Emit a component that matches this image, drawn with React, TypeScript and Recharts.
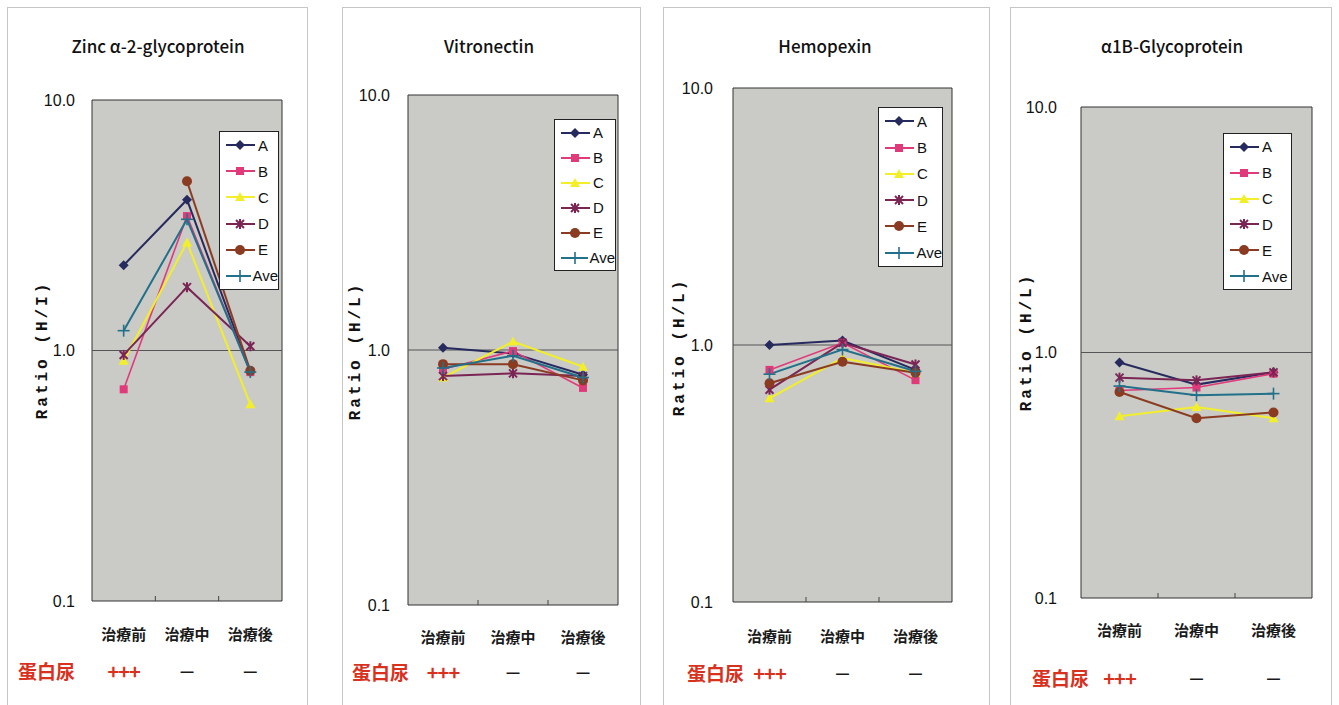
import React from 'react';
import { LineChart, Line, XAxis, YAxis, ReferenceArea, ReferenceLine, Legend } from 'recharts';

// ---------- data ----------
const categories = ['治療前', '治療中', '治療後'];
const proteinuria = ['+++', '—', '—'];
const proteinuriaLabel = '蛋白尿';
const yTicks = [0.1, 1, 10];

// Zinc α-2-glycoprotein
const zincA = [2.19, 4.0, 0.82];
const zincB = [0.7, 3.44, 0.82];
const zincC = [0.91, 2.7, 0.61];
const zincD = [0.96, 1.79, 1.04];
const zincE = [null, 4.74, 0.83];
const zincAve = [1.2, 3.34, 0.82];

// Vitronectin
const vitA = [1.02, 0.97, 0.8];
const vitB = [0.84, 0.99, 0.71];
const vitC = [0.78, 1.08, 0.86];
const vitD = [0.79, 0.81, 0.79];
const vitE = [0.88, 0.88, 0.76];
const vitAve = [0.85, 0.95, 0.78];

// Hemopexin
const hemA = [1.0, 1.04, 0.8];
const hemB = [0.8, 1.02, 0.73];
const hemC = [0.62, 0.89, 0.78];
const hemD = [0.67, 1.02, 0.84];
const hemE = [0.71, 0.86, 0.78];
const hemAve = [0.77, 0.96, 0.79];

// α1B-Glycoprotein
const a1bA = [0.91, 0.74, 0.83];
const a1bB = [0.7, 0.72, 0.82];
const a1bC = [0.55, 0.6, 0.54];
const a1bD = [0.79, 0.77, 0.83];
const a1bE = [0.69, 0.54, 0.57];
const a1bAve = [0.73, 0.67, 0.68];

// ---------- styles ----------
const seriesStyle = [
  { key: 'A', color: '#272a5e', shape: 'diamond' },
  { key: 'B', color: '#e03a7a', shape: 'square' },
  { key: 'C', color: '#f2ef2a', shape: 'triangle' },
  { key: 'D', color: '#7b2555', shape: 'star' },
  { key: 'E', color: '#8a3b22', shape: 'circle' },
  { key: 'Ave', color: '#22708a', shape: 'plus' },
];

const RED = '#d8321e';
const PLOT_BG = '#cacbc6';

const panels = [
  {
    title: 'Zinc α-2-glycoprotein', ylabel: 'Ratio (H/I)',
    values: [zincA, zincB, zincC, zincD, zincE, zincAve],
    left: 7, right: 308, plotL: 92, plotR: 282, plotT: 100, plotB: 601,
    titleX: 158, ylabelX: 43, ylabelY: 350,
    legend: { x: 219, y: 131, w: 60, h: 159 },
    catOff: 32, protOff: 69, protLabelX: 18, tickGap: 17,
  },
  {
    title: 'Vitronectin', ylabel: 'Ratio (H/L)',
    values: [vitA, vitB, vitC, vitD, vitE, vitAve],
    left: 342, right: 641, plotL: 408, plotR: 618, plotT: 95, plotB: 605,
    titleX: 489, ylabelX: 356, ylabelY: 351,
    legend: { x: 554, y: 119, w: 62, h: 152 },
    catOff: 31, protOff: 66, protLabelX: 352, tickGap: 18,
  },
  {
    title: 'Hemopexin', ylabel: 'Ratio (H/L)',
    values: [hemA, hemB, hemC, hemD, hemE, hemAve],
    left: 663, right: 990, plotL: 733, plotR: 952, plotT: 88, plotB: 602,
    titleX: 825, ylabelX: 680, ylabelY: 347,
    legend: { x: 878, y: 107, w: 65, h: 160 },
    catOff: 33, protOff: 70, protLabelX: 687, tickGap: 20,
  },
  {
    title: 'α1B-Glycoprotein', ylabel: 'Ratio (H/L)',
    values: [a1bA, a1bB, a1bC, a1bD, a1bE, a1bAve],
    left: 1010, right: 1332, plotL: 1081, plotR: 1312, plotT: 107, plotB: 598,
    titleX: 1172, ylabelX: 1027, ylabelY: 342,
    legend: { x: 1223, y: 133, w: 69, h: 157 },
    catOff: 31, protOff: 79, protLabelX: 1032, tickGap: 24,
  },
];

function Marker({ cx, cy, shape, color }: any) {
  switch (shape) {
    case 'diamond':
      return <polygon points={`${cx},${cy - 5} ${cx + 5},${cy} ${cx},${cy + 5} ${cx - 5},${cy}`} fill={color} />;
    case 'square':
      return <rect x={cx - 4} y={cy - 4} width={8} height={8} fill={color} />;
    case 'triangle':
      return <polygon points={`${cx},${cy - 5} ${cx + 5},${cy + 4} ${cx - 5},${cy + 4}`} fill={color} />;
    case 'star':
      return (
        <g stroke={color} strokeWidth={2}>
          <line x1={cx - 4} y1={cy - 4} x2={cx + 4} y2={cy + 4} />
          <line x1={cx - 4} y1={cy + 4} x2={cx + 4} y2={cy - 4} />
          <line x1={cx} y1={cy - 5} x2={cx} y2={cy + 5} />
        </g>
      );
    case 'circle':
      return <circle cx={cx} cy={cy} r={5} fill={color} />;
    case 'plus':
    default:
      return (
        <g stroke={color} strokeWidth={1.6}>
          <line x1={cx - 6} y1={cy} x2={cx + 6} y2={cy} />
          <line x1={cx} y1={cy - 6} x2={cx} y2={cy + 6} />
        </g>
      );
  }
}

const makeDot = (s: any) => (p: any) => {
  const { cx, cy, index, value } = p;
  if (cx == null || cy == null || value == null) return <g key={`${s.key}-${index}`} />;
  return <Marker key={`${s.key}-${index}`} cx={cx} cy={cy} shape={s.shape} color={s.color} />;
};

function LegendBox({ rowH }: any) {
  return (
    <div
      style={{
        width: '100%', height: '100%', background: '#fff', border: '1px solid #222',
        boxSizing: 'border-box', display: 'flex', flexDirection: 'column', justifyContent: 'center',
      }}
    >
      {seriesStyle.map((s) => (
        <div key={s.key} style={{ height: rowH, display: 'flex', alignItems: 'center' }}>
          <svg width={33} height={14} style={{ marginLeft: 4 }}>
            <line x1={2} x2={31} y1={7} y2={7} stroke={s.color} strokeWidth={2} />
            <Marker cx={16} cy={7} shape={s.shape} color={s.color} />
          </svg>
          <span style={{ fontFamily: 'Liberation Sans', fontSize: 15, color: '#111', marginLeft: 1 }}>{s.key}</span>
        </div>
      ))}
    </div>
  );
}

function CatTick(props: any) {
  const { x, y, payload, index, catOff, protOff, bw } = props;
  const prot = proteinuria[index];
  return (
    <g>
      {index < categories.length - 1 && (
        <line x1={x + bw / 2} x2={x + bw / 2} y1={y} y2={y - 5} stroke="#444" />
      )}
      <text x={x} y={y + catOff} textAnchor="middle" dominantBaseline="central"
        fontFamily="Noto Sans CJK JP" fontWeight="bold" fontSize={15} fill="#1a1a1a">
        {payload.value}
      </text>
      <text x={x} y={y + protOff} textAnchor="middle" dominantBaseline="central"
        fontFamily="Noto Sans CJK JP" fontWeight="bold" fontSize={prot === '+++' ? 20 : 16}
        letterSpacing={prot === '+++' ? -1 : 0}
        fill={prot === '+++' ? RED : '#1a1a1a'}>
        {prot}
      </text>
    </g>
  );
}

function Panel({ cfg }: any) {
  const W = cfg.right - cfg.left;
  const H = 705;
  const XH = 100;
  const data = categories.map((c, i) => {
    const row: any = { cat: c };
    seriesStyle.forEach((s, k) => { row[s.key] = cfg.values[k][i]; });
    return row;
  });
  const bw = (cfg.plotR - cfg.plotL) / categories.length;
  const lg = cfg.legend;
  return (
    <>
      <div style={{ position: 'absolute', left: cfg.left, top: 7, width: W, height: 700, border: '1px solid #c6c6c6', boxSizing: 'border-box' }} />
      <div style={{ position: 'absolute', left: cfg.titleX, top: 45, transform: 'translate(-50%, -50%)', whiteSpace: 'nowrap', fontFamily: 'Noto Sans CJK JP', fontSize: 17, fontWeight: 500, color: '#111' }}>
        {cfg.title}
      </div>
      <div style={{ position: 'absolute', left: cfg.ylabelX, top: cfg.ylabelY, transform: 'translate(-50%, -50%) rotate(-90deg)', whiteSpace: 'nowrap', fontFamily: 'Liberation Mono', fontSize: 16, fontWeight: 'bold', letterSpacing: 3, color: '#111' }}>
        {cfg.ylabel}
      </div>
      <div style={{ position: 'absolute', left: cfg.protLabelX, top: cfg.plotB + cfg.protOff, transform: 'translateY(-50%)', whiteSpace: 'nowrap', fontFamily: 'Noto Sans CJK JP', fontSize: 19, fontWeight: 'bold', color: RED }}>
        {proteinuriaLabel}
      </div>
      <div style={{ position: 'absolute', left: cfg.left, top: 0 }}>
        <LineChart width={W} height={H} data={data}
          margin={{ top: cfg.plotT, right: cfg.right - cfg.plotR, left: 0, bottom: H - cfg.plotB - XH }}>
          <XAxis dataKey="cat" scale="band" height={XH} axisLine={false} tickLine={false} tickSize={0} tickMargin={0} interval={0}
            tick={(p: any) => <CatTick {...p} catOff={cfg.catOff} protOff={cfg.protOff} bw={bw} />} />
          <YAxis type="number" scale="log" domain={[0.1, 10]} ticks={yTicks} allowDataOverflow
            width={cfg.plotL - cfg.left} axisLine={false} tickLine={false} tickSize={0} tickMargin={cfg.tickGap}
            tickFormatter={(v: number) => v.toFixed(1)}
            tick={{ fontFamily: 'Liberation Sans', fontSize: 16, fill: '#111' }} />
          <ReferenceArea y1={0.1} y2={10} fill={PLOT_BG} fillOpacity={1} stroke="#333" strokeWidth={1} ifOverflow="visible" />
          <ReferenceLine y={1} stroke="#555" strokeWidth={1} />
          {seriesStyle.map((s) => (
            <Line key={s.key} type="linear" dataKey={s.key} name={s.key} stroke={s.color}
              strokeWidth={s.key === 'B' ? 1.6 : 2} dot={makeDot(s)} activeDot={false} isAnimationActive={false} />
          ))}
          <Legend layout="vertical" align="center" verticalAlign="middle"
            content={() => <LegendBox rowH={(lg.h - 2) / 6} />}
            wrapperStyle={{ position: 'absolute', left: lg.x - cfg.left, top: lg.y, width: lg.w, height: lg.h, margin: 0, padding: 0 }} />
        </LineChart>
      </div>
    </>
  );
}

export default function App() {
  return (
    <div style={{ position: 'absolute', left: 0, top: 0, width: 1339, height: 705, background: '#fff', overflow: 'hidden' }}>
      {panels.map((cfg) => (
        <Panel key={cfg.title} cfg={cfg} />
      ))}
    </div>
  );
}
